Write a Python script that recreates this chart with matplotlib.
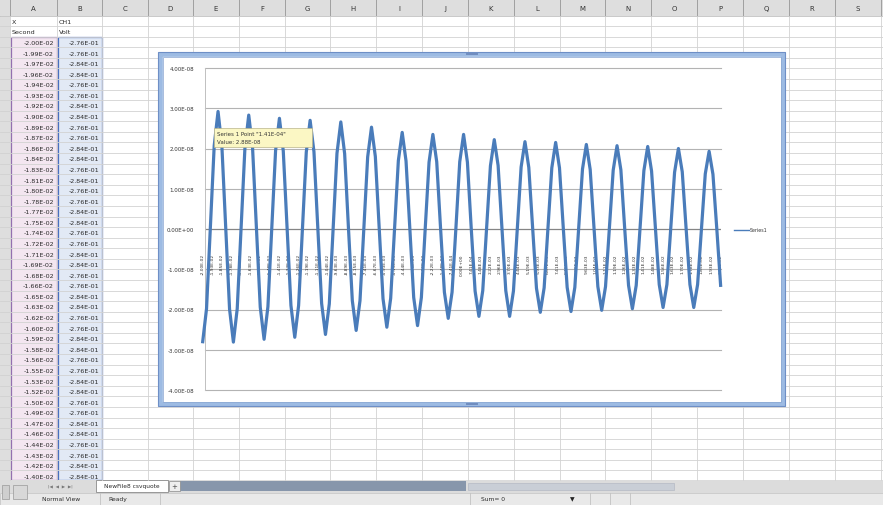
import matplotlib
matplotlib.use("Agg")
import matplotlib.pyplot as plt
from matplotlib.patches import Rectangle
import numpy as np

W, H = 883, 506

# ---- worksheet contents ----
COLUMN_LETTERS = ["A", "B", "C", "D", "E", "F", "G", "H", "I", "J",
                  "K", "L", "M", "N", "O", "P", "Q", "R", "S"]
TITLE_ROW = ["X", "CH1"]
UNIT_ROW = ["Second", "Volt"]
TIME_CELLS = [
    "-2.00E-02", "-1.99E-02", "-1.97E-02", "-1.96E-02", "-1.94E-02", "-1.93E-02",
    "-1.92E-02", "-1.90E-02", "-1.89E-02", "-1.87E-02", "-1.86E-02", "-1.84E-02",
    "-1.83E-02", "-1.81E-02", "-1.80E-02", "-1.78E-02", "-1.77E-02", "-1.75E-02",
    "-1.74E-02", "-1.72E-02", "-1.71E-02", "-1.69E-02", "-1.68E-02", "-1.66E-02",
    "-1.65E-02", "-1.63E-02", "-1.62E-02", "-1.60E-02", "-1.59E-02", "-1.58E-02",
    "-1.56E-02", "-1.55E-02", "-1.53E-02", "-1.52E-02", "-1.50E-02", "-1.49E-02",
    "-1.47E-02", "-1.46E-02", "-1.44E-02", "-1.43E-02", "-1.42E-02", "-1.40E-02",
]
VOLT_CELLS = [
    "-2.76E-01", "-2.76E-01", "-2.84E-01", "-2.84E-01", "-2.76E-01", "-2.76E-01",
    "-2.84E-01", "-2.84E-01", "-2.76E-01", "-2.76E-01", "-2.84E-01", "-2.84E-01",
    "-2.76E-01", "-2.84E-01", "-2.76E-01", "-2.76E-01", "-2.84E-01", "-2.84E-01",
    "-2.76E-01", "-2.76E-01", "-2.84E-01", "-2.84E-01", "-2.76E-01", "-2.76E-01",
    "-2.84E-01", "-2.84E-01", "-2.76E-01", "-2.76E-01", "-2.84E-01", "-2.84E-01",
    "-2.76E-01", "-2.76E-01", "-2.84E-01", "-2.84E-01", "-2.76E-01", "-2.76E-01",
    "-2.84E-01", "-2.84E-01", "-2.76E-01", "-2.76E-01", "-2.84E-01", "-2.84E-01",
]

# ---- chart data, volts in units of 1e-8 ----
SERIES1 = [
    -2.80, -1.98, 0.02, 2.07, 2.92, 2.06, 0.03, -1.99,
    -2.81, -1.98, 0.01, 2.00, 2.83, 2.01, 0.02, -1.94,
    -2.74, -1.93, 0.01, 1.95, 2.75, 1.94, 0.02, -1.90,
    -2.69, -1.90, 0.00, 1.91, 2.70, 1.92, 0.01, -1.85,
    -2.62, -1.86, 0.02, 1.88, 2.66, 1.87, 0.01, -1.78,
    -2.52, -1.78, 0.01, 1.79, 2.53, 1.80, 0.02, -1.73,
    -2.44, -1.72, 0.00, 1.70, 2.40, 1.69, 0.01, -1.70,
    -2.40, -1.70, 0.01, 1.66, 2.35, 1.67, 0.02, -1.57,
    -2.22, -1.57, 0.02, 1.67, 2.35, 1.66, 0.01, -1.54,
    -2.17, -1.53, 0.01, 1.57, 2.22, 1.58, 0.02, -1.53,
    -2.17, -1.54, 0.00, 1.54, 2.17, 1.53, 0.01, -1.47,
    -2.07, -1.46, 0.02, 1.52, 2.15, 1.52, 0.01, -1.45,
    -2.05, -1.45, 0.01, 1.49, 2.10, 1.48, 0.02, -1.43,
    -2.02, -1.43, 0.01, 1.46, 2.07, 1.47, 0.01, -1.40,
    -1.98, -1.40, 0.02, 1.45, 2.05, 1.44, 0.01, -1.38,
    -1.95, -1.38, 0.01, 1.41, 2.00, 1.42, 0.02, -1.38,
    -1.95, -1.38, 0.01, 1.37, 1.93, 1.36, 0.01, -1.40,
]
CATEGORY_LABELS = [
    "-2.00E-02", "-1.93E-02", "-1.85E-02", "-1.78E-02", "-1.70E-02", "-1.63E-02",
    "-1.56E-02", "-1.48E-02", "-1.41E-02", "-1.33E-02", "-1.26E-02", "-1.19E-02",
    "-1.11E-02", "-1.04E-02", "-9.63E-03", "-8.89E-03", "-8.15E-03", "-7.41E-03",
    "-6.67E-03", "-5.93E-03", "-5.19E-03", "-4.44E-03", "-3.70E-03", "-2.96E-03",
    "-2.22E-03", "-1.48E-03", "-7.41E-04", "0.00E+00", "7.41E-04", "1.48E-03",
    "2.22E-03", "2.96E-03", "3.70E-03", "4.44E-03", "5.19E-03", "5.93E-03",
    "6.67E-03", "7.41E-03", "8.15E-03", "8.89E-03", "9.63E-03", "1.04E-02",
    "1.11E-02", "1.19E-02", "1.26E-02", "1.33E-02", "1.41E-02", "1.48E-02",
    "1.56E-02", "1.63E-02", "1.70E-02", "1.78E-02", "1.85E-02", "1.93E-02",
    "2.00E-02",
]
Y_TICK_VALUES = [4, 3, 2, 1, 0, -1, -2, -3, -4]
Y_TICK_LABELS = ["4.00E-08", "3.00E-08", "2.00E-08", "1.00E-08", "0.00E+00",
                 "-1.00E-08", "-2.00E-08", "-3.00E-08", "-4.00E-08"]
TOOLTIP_LINES = ['Series 1 Point "1.41E-04"', "Value: 2.88E-08"]
LEGEND_LABEL = "Series1"
SHEET_NAME = "NewFile8 csvquote"
STATUS_ITEMS = ["Normal View", "Ready", "Sum= 0"]

# ---- screen layout (pixels) ----
COL_EDGES = [10, 57, 102, 148, 193, 239, 285, 330, 376, 422, 468, 514,
             560, 605, 651, 697, 743, 789, 835, 881]
HEADER_H = 16.5
ROW_H = 10.58
N_ROWS = 44
GRID_BOTTOM = 481
BLUE = "#4a7cba"
TXT = "#2a2a2a"

fig = plt.figure(figsize=(W / 100, H / 100), dpi=100)
bg = fig.add_axes([0, 0, 1, 1])
bg.set_xlim(0, W)
bg.set_ylim(H, 0)
bg.axis("off")

# column header band + row header strip
bg.add_patch(Rectangle((0, 0), W, HEADER_H, fc="#dedede", ec="none"))
bg.add_patch(Rectangle((0, 0), COL_EDGES[0], GRID_BOTTOM, fc="#dedede", ec="none"))
bg.plot([0, W], [HEADER_H, HEADER_H], color="#a0a0a0", lw=0.7)

# selected source ranges
data_top = HEADER_H + 2 * ROW_H
bg.add_patch(Rectangle((COL_EDGES[0], data_top), COL_EDGES[1] - COL_EDGES[0],
                       GRID_BOTTOM - data_top, fc="#f3e6f0", ec="none"))
bg.add_patch(Rectangle((COL_EDGES[1], data_top), COL_EDGES[2] - COL_EDGES[1],
                       GRID_BOTTOM - data_top, fc="#e2e9f5", ec="none"))

# cell grid
for r in range(N_ROWS + 1):
    y = HEADER_H + r * ROW_H
    if y > GRID_BOTTOM:
        break
    bg.plot([0, W], [y, y], color="#d2d2d2", lw=0.6)
for x in COL_EDGES:
    bg.plot([x, x], [0, HEADER_H], color="#a0a0a0", lw=0.7)
    bg.plot([x, x], [HEADER_H, GRID_BOTTOM], color="#d2d2d2", lw=0.6)

for i, letter in enumerate(COLUMN_LETTERS):
    cx = (COL_EDGES[i] + COL_EDGES[i + 1]) / 2
    bg.text(cx, HEADER_H / 2 + 1, letter, ha="center", va="center",
            fontsize=5, color="#333333")

# selection outlines
bg.add_patch(Rectangle((COL_EDGES[0] + 0.5, data_top), COL_EDGES[1] - COL_EDGES[0] - 1,
                       GRID_BOTTOM - data_top, fc="none", ec="#9370b0", lw=0.9))
bg.add_patch(Rectangle((COL_EDGES[1] + 0.5, data_top), COL_EDGES[2] - COL_EDGES[1] - 1,
                       GRID_BOTTOM - data_top, fc="none", ec="#4a6fc0", lw=0.9))

# cell text
for j, (a, b) in enumerate([TITLE_ROW, UNIT_ROW]):
    y = HEADER_H + (j + 0.55) * ROW_H
    bg.text(COL_EDGES[0] + 2, y, a, ha="left", va="center", fontsize=4.6, color=TXT)
    bg.text(COL_EDGES[1] + 2, y, b, ha="left", va="center", fontsize=4.6, color=TXT)
for k, (a, b) in enumerate(zip(TIME_CELLS, VOLT_CELLS)):
    y = data_top + (k + 0.55) * ROW_H
    if y > GRID_BOTTOM - 2:
        break
    bg.text(COL_EDGES[1] - 3, y, a, ha="right", va="center", fontsize=4.6, color=TXT)
    bg.text(COL_EDGES[2] - 3, y, b, ha="right", va="center", fontsize=4.6, color=TXT)

# chart object frame
CH_L, CH_T, CH_R, CH_B = 160, 55, 783, 405
bg.add_patch(Rectangle((CH_L, CH_T), CH_R - CH_L, CH_B - CH_T,
                       fc="white", ec="#9dbbe3", lw=3.4, zorder=5))
bg.add_patch(Rectangle((CH_L - 2.2, CH_T - 2.2), CH_R - CH_L + 4.4, CH_B - CH_T + 4.4,
                       fc="none", ec="#6e8fc6", lw=0.8, zorder=5))
bg.add_patch(Rectangle((CH_L + 2.5, CH_T + 2.5), CH_R - CH_L - 5, CH_B - CH_T - 5,
                       fc="none", ec="#86a3d0", lw=0.5, zorder=5))
for hx, hy in [((CH_L + CH_R) / 2, CH_T), ((CH_L + CH_R) / 2, CH_B)]:
    bg.plot([hx - 5, hx + 5], [hy, hy], color="#6f8cbf", lw=1.4, zorder=6)

# legend
bg.plot([734, 749], [231, 231], color=BLUE, lw=1.0, zorder=6)
bg.text(750, 231, LEGEND_LABEL, ha="left", va="center", fontsize=3.4,
        color="#333333", zorder=6)

# sheet tab bar and status bar
bg.add_patch(Rectangle((0, 481), W, 12.5, fc="#dcdcdc", ec="none"))
bg.add_patch(Rectangle((180, 482), 286, 10, fc="#8796ab", ec="none"))
bg.add_patch(Rectangle((468, 483.5), 206, 7, fc="#c9ced6", ec="#b4bac4", lw=0.5))
bg.add_patch(Rectangle((96, 481), 72, 11.5, fc="white", ec="#8a8a8a", lw=0.6))
bg.text(132, 487, SHEET_NAME, ha="center", va="center", fontsize=4.2, color=TXT)
bg.add_patch(Rectangle((169, 482), 11, 10, fc="#eeeeee", ec="#8a8a8a", lw=0.5))
bg.text(174.5, 487, "+", ha="center", va="center", fontsize=5, color="#444444")
bg.text(60, 487, "|◀  ◀  ▶  ▶|", ha="center", va="center", fontsize=3.2, color="#777777")
bg.add_patch(Rectangle((0, 493.5), W, 12.5, fc="#e9e9e9", ec="#bdbdbd", lw=0.5))
bg.add_patch(Rectangle((2, 486), 7, 14, fc="#cfcfcf", ec="#999999", lw=0.5))
bg.add_patch(Rectangle((13, 486), 14, 14, fc="#d8d8d8", ec="#999999", lw=0.5))
for sx in [100, 160, 470, 590, 610, 630]:
    bg.plot([sx, sx], [494, 506], color="#c2c2c2", lw=0.6)
bg.text(42, 500, STATUS_ITEMS[0], ha="left", va="center", fontsize=4.3, color=TXT)
bg.text(108, 500, STATUS_ITEMS[1], ha="left", va="center", fontsize=4.3, color=TXT)
bg.text(481, 500, STATUS_ITEMS[2], ha="left", va="center", fontsize=4.3, color=TXT)
bg.text(572, 500, "▼", ha="center", va="center", fontsize=4.3, color="#222222")

# ---- the plotted chart ----
PL, PR, PT, PB = 205, 721, 69, 391
ax = fig.add_axes([PL / W, 1 - PB / H, (PR - PL) / W, (PB - PT) / H])
ax.set_facecolor("none")
ax.set_zorder(10)

volts = np.array(SERIES1) * 1e-8
idx = np.arange(len(volts))
ax.plot(idx, volts, color=BLUE, lw=2.3, zorder=4, clip_on=False,
        solid_joinstyle="round")
ax.set_xlim(0.6, 135.1)
ax.set_ylim(-4e-8, 4e-8)

yt = np.array(Y_TICK_VALUES) * 1e-8
for v in yt:
    if v == 0:
        continue
    ax.axhline(v, color="#b3b3b3", lw=0.8, zorder=1, clip_on=False)
ax.axhline(0, color="#858585", lw=0.9, zorder=1)
ax.set_yticks(yt)
ax.set_yticklabels(Y_TICK_LABELS)
ax.tick_params(axis="y", length=0, pad=8, labelsize=4, labelcolor="#333333")
ax.set_xticks([])
for side in ["top", "right", "bottom"]:
    ax.spines[side].set_visible(False)
ax.spines["left"].set_color("#c0c0c0")
ax.spines["left"].set_linewidth(0.7)

for i, lab in enumerate(CATEGORY_LABELS):
    ax.text(i * 2.5, -0.6e-8, lab, rotation=90, ha="center", va="top",
            fontsize=3.2, color="#333333", zorder=3)

# hover tooltip
ax.add_patch(Rectangle((214, 129), 98, 19, transform=bg.transData, fc="#fbf7c4",
                       ec="#b9b48a", lw=0.5, zorder=8, clip_on=False))
ax.text(217, 134, TOOLTIP_LINES[0], transform=bg.transData, fontsize=4,
        va="center", ha="left", color="#333333", zorder=9, clip_on=False)
ax.text(217, 142.5, TOOLTIP_LINES[1], transform=bg.transData, fontsize=4,
        va="center", ha="left", color="#333333", zorder=9, clip_on=False)

fig.savefig("out.png", dpi=100)
